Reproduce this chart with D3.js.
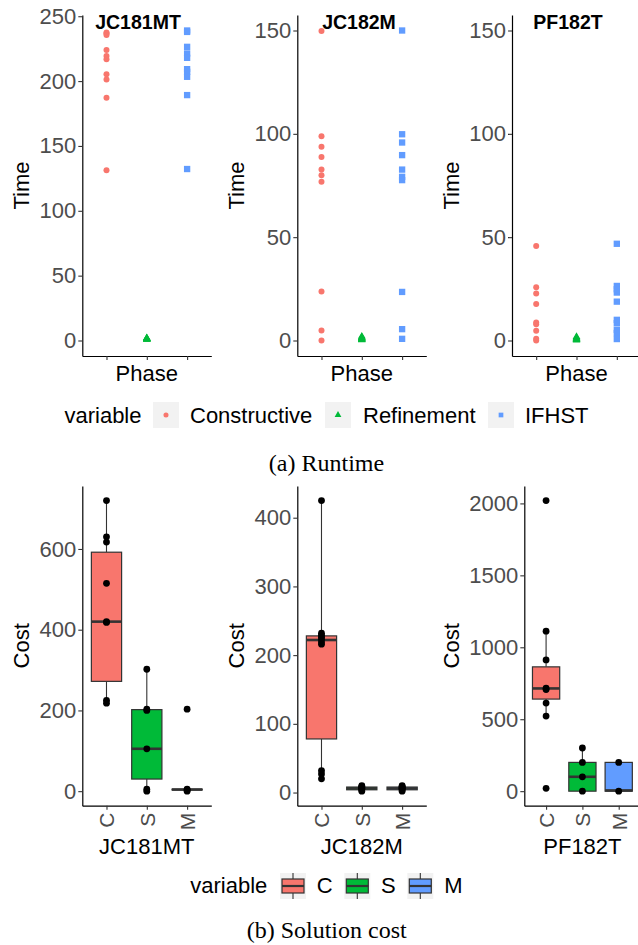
<!DOCTYPE html>
<html><head><meta charset="utf-8">
<script src="https://cdn.jsdelivr.net/npm/d3@7"></script>
<style>body{margin:0;background:#fff}svg{display:block}</style>
</head><body>
<svg id="chart" width="638" height="945"></svg>
<script>
// ---------------- DATA ----------------
const datasets = ["JC181MT", "JC182M", "PF182T"];
const phases = ["Constructive", "Refinement", "IFHST"];
const phaseColors = ["#F8766D", "#00BA38", "#619CFF"];

// Runtime (Time) per dataset
const rtConstructive = [
  [237.5, 236.7, 235.6, 224, 219.4, 216.9, 205.3, 201.3, 187.1, 131.2],
  [149.7, 98.8, 93.8, 88.8, 82.7, 79.9, 76.8, 23.7, 4.8, 0],
  [45.7, 25.8, 22.7, 17.7, 8.7, 7.9, 4.7, 0.8, 0]
];
const rtRefinement = [
  [0.8, 1.0, 1.2, 1.5, 1.8, 2.0, 1.1, 0.9, 1.3],
  [0.2, 0.5, 0.8, 1.2, 1.6, 2.0, 0.4, 1.0, 1.4],
  [0.1, 0.3, 0.6, 1.0, 1.4, 1.8, 0.5, 0.9]
];
const rtIFHST = [
  [239, 237.9, 226.4, 221.3, 217.9, 209.2, 207.1, 203.3, 189.2, 132.2],
  [150, 99.8, 95.8, 89.7, 82.7, 79.2, 77.6, 23.5, 5.5, 0.8],
  [46.8, 26.4, 24.8, 23.2, 18.8, 10, 8.4, 5.2, 3.6, 0.7]
];
const rtLimits = [[0, 239], [0, 150], [0, 150]];
const rtTicks = [[0, 50, 100, 150, 200, 250], [0, 50, 100, 150], [0, 50, 100, 150]];

// Solution cost per dataset
const costVars = ["C", "S", "M"];
const costColors = ["#F8766D", "#00BA38", "#619CFF"];
const costPointsC = [
  [720, 630, 617, 515, 420, 418, 225, 218],
  [425, 232, 229, 226, 223, 219, 216, 32, 27, 20],
  [2020, 1112, 912, 716, 706, 612, 522, 20]
];
const costPointsS = [
  [302, 203, 200, 105, 5, 0],
  [2, 4, 5, 6, 7, 8, 9, 10],
  [300, 200, 100, 0]
];
const costPointsM = [
  [203, 5, 3, 0],
  [2, 4, 5, 6, 7, 8, 9, 10],
  [200, 0]
];
// box stats: [lower whisker, q1, median, q3, upper whisker]
const costBoxC = [[218, 272, 420, 592, 720], [20, 78, 222, 228, 425], [520, 640, 714, 864, 1112]];
const costBoxS = [[0, 30, 105, 202, 302], [2, 4, 6, 8, 10], [0, 0, 100, 200, 300]];
const costBoxM = [[0, 3, 4, 5, 5], [2, 4, 6, 8, 10], [0, 0, 5, 200, 200]];
const costTicks = [[0, 200, 400, 600], [0, 100, 200, 300, 400], [0, 500, 1000, 1500, 2000]];

// ---------------- LAYOUT ----------------
const SANS = "'Liberation Sans', Arial, Helvetica, sans-serif";
const SERIF = "'Liberation Serif', 'Times New Roman', serif";
const svg = d3.select("#chart");
const fmt = d3.format("d");

const topPanels = [
  {left: 82.3, right: 211.3, titleX: 138, ylabX: 29.3},
  {left: 297.3, right: 426.3, titleX: 359, ylabX: 244.3},
  {left: 512, right: 641, titleX: 568, ylabX: 459.3}
];
const topY = [356, 15];
const botPanels = [
  {left: 82.3, right: 211.3, ylabX: 29.3},
  {left: 297.3, right: 426.3, ylabX: 244.3},
  {left: 524.3, right: 640.5, ylabX: 459.3}
];
const botY = [805.7, 486];

function expand(lim) {
  const r = lim[1] - lim[0];
  return [lim[0] - 0.05 * r, lim[1] + 0.05 * r];
}
function styleAxis(g) {
  g.select(".domain").attr("stroke", "#000").attr("stroke-width", 1.2);
  g.selectAll(".tick line").attr("stroke", "#333").attr("stroke-width", 1.1);
  g.selectAll(".tick text").attr("fill", "#4D4D4D").attr("font-family", SANS);
}

// ---------------- TOP ROW: RUNTIME ----------------
topPanels.forEach((p, i) => {
  const y = d3.scaleLinear().domain(expand(rtLimits[i])).range(topY);
  const x = d3.scalePoint().domain(phases).range([p.left, p.right]).padding(0.6);

  const gy = svg.append("g").attr("transform", `translate(${p.left},0)`)
    .call(d3.axisLeft(y).tickValues(rtTicks[i]).tickFormat(fmt).tickSize(4).tickPadding(2).tickSizeOuter(0));
  styleAxis(gy);
  gy.selectAll(".tick text").attr("font-size", 22);

  const gx = svg.append("g").attr("transform", `translate(0,${topY[0]})`)
    .call(d3.axisBottom(x).tickSize(4).tickSizeOuter(0).tickFormat(""));
  styleAxis(gx);

  svg.append("text").attr("x", x("Refinement")).attr("y", 381)
    .attr("text-anchor", "middle").attr("font-family", SANS).attr("font-size", 22)
    .text("Phase");
  svg.append("text").attr("transform", `translate(${p.ylabX},${(topY[0] + topY[1]) / 2}) rotate(-90)`)
    .attr("text-anchor", "middle").attr("font-family", SANS).attr("font-size", 22)
    .text("Time");

  svg.append("g").selectAll("circle").data(rtConstructive[i]).join("circle")
    .attr("cx", x("Constructive")).attr("cy", d => y(d)).attr("r", 3)
    .attr("fill", phaseColors[0]);
  svg.append("g").selectAll("path").data(rtRefinement[i]).join("path")
    .attr("d", d3.symbol(d3.symbolTriangle, 26))
    .attr("transform", d => `translate(${x("Refinement")},${y(d)})`)
    .attr("fill", phaseColors[1]);
  svg.append("g").selectAll("path").data(rtIFHST[i]).join("path")
    .attr("d", d3.symbol(d3.symbolSquare, 40))
    .attr("transform", d => `translate(${x("IFHST")},${y(d)})`)
    .attr("fill", phaseColors[2]);

  svg.append("text").attr("x", p.titleX).attr("y", 28.5)
    .attr("text-anchor", "middle").attr("font-family", SANS).attr("font-weight", "bold")
    .attr("font-size", 19.5).text(datasets[i]);
});

// top legend
{
  const ly = 402, ks = 26;
  svg.append("text").attr("x", 141.5).attr("y", 423).attr("text-anchor", "end")
    .attr("font-family", SANS).attr("font-size", 22).text("variable");
  const keyX = [153, 325, 488];
  const txtX = [190, 363, 525];
  const syms = [d3.symbolCircle, d3.symbolTriangle, d3.symbolSquare];
  const sizes = [20, 20, 22];
  phases.forEach((ph, j) => {
    svg.append("rect").attr("x", keyX[j]).attr("y", ly).attr("width", ks).attr("height", ks)
      .attr("fill", "#F2F2F2");
    svg.append("path").attr("d", d3.symbol(syms[j], sizes[j]))
      .attr("transform", `translate(${keyX[j] + ks / 2},${ly + ks / 2})`)
      .attr("fill", phaseColors[j]);
    svg.append("text").attr("x", txtX[j]).attr("y", 423)
      .attr("font-family", SANS).attr("font-size", 22).text(ph);
  });
}

svg.append("text").attr("x", 326.5).attr("y", 470.5).attr("text-anchor", "middle")
  .attr("font-family", SERIF).attr("font-size", 24).text("(a) Runtime");

// ---------------- BOTTOM ROW: COST ----------------
const boxSets = [costBoxC, costBoxS, costBoxM];
const ptSets = [costPointsC, costPointsS, costPointsM];
botPanels.forEach((p, i) => {
  const all = [].concat(costPointsC[i], costPointsS[i], costPointsM[i]);
  const y = d3.scaleLinear().domain(expand(d3.extent(all))).range(botY);
  const x = d3.scalePoint().domain(costVars).range([p.left, p.right]).padding(0.6);
  const bw = x.step() * 0.75;

  const gy = svg.append("g").attr("transform", `translate(${p.left},0)`)
    .call(d3.axisLeft(y).tickValues(costTicks[i]).tickFormat(fmt).tickSize(4).tickPadding(2).tickSizeOuter(0));
  styleAxis(gy);
  gy.selectAll(".tick text").attr("font-size", 22);

  const gx = svg.append("g").attr("transform", `translate(0,${botY[0]})`)
    .call(d3.axisBottom(x).tickSize(4).tickPadding(3).tickSizeOuter(0));
  styleAxis(gx);
  gx.selectAll(".tick text")
    .attr("transform", "rotate(-90)").attr("text-anchor", "end")
    .attr("x", -7).attr("y", 0).attr("dy", "0.35em").attr("font-size", 21);

  svg.append("text").attr("x", (p.left + p.right) / 2).attr("y", 854).attr("text-anchor", "middle")
    .attr("font-family", SANS).attr("font-size", 22).text(datasets[i]);
  svg.append("text").attr("transform", `translate(${p.ylabX},${(botY[0] + botY[1]) / 2}) rotate(-90)`)
    .attr("text-anchor", "middle").attr("font-family", SANS).attr("font-size", 22)
    .text("Cost");

  costVars.forEach((v, j) => {
    const [lw, q1, med, q3, uw] = boxSets[j][i];
    const cx = x(v);
    const g = svg.append("g");
    g.append("line").attr("x1", cx).attr("x2", cx).attr("y1", y(uw)).attr("y2", y(q3))
      .attr("stroke", "#333").attr("stroke-width", 1.1);
    g.append("line").attr("x1", cx).attr("x2", cx).attr("y1", y(q1)).attr("y2", y(lw))
      .attr("stroke", "#333").attr("stroke-width", 1.1);
    g.append("rect").attr("x", cx - bw / 2).attr("width", bw)
      .attr("y", y(q3)).attr("height", Math.max(0, y(q1) - y(q3)))
      .attr("fill", costColors[j]).attr("stroke", "#333").attr("stroke-width", 1.2);
    g.append("line").attr("x1", cx - bw / 2).attr("x2", cx + bw / 2)
      .attr("y1", y(med)).attr("y2", y(med))
      .attr("stroke", "#333").attr("stroke-width", 2.6);
    g.selectAll("circle").data(ptSets[j][i]).join("circle")
      .attr("cx", cx).attr("cy", d => y(d)).attr("r", 3.4).attr("fill", "#000");
  });
});

// bottom legend
{
  const ly = 873, ks = 26;
  svg.append("text").attr("x", 267.3).attr("y", 893).attr("text-anchor", "end")
    .attr("font-family", SANS).attr("font-size", 22).text("variable");
  const keyX = [280, 344.3, 407.3];
  const txtX = [316.7, 381, 444.3];
  costVars.forEach((v, j) => {
    const kx = keyX[j];
    svg.append("rect").attr("x", kx).attr("y", ly).attr("width", ks).attr("height", ks)
      .attr("fill", "#F2F2F2");
    svg.append("line").attr("x1", kx + ks / 2).attr("x2", kx + ks / 2)
      .attr("y1", ly).attr("y2", ly + ks).attr("stroke", "#333").attr("stroke-width", 1.1);
    svg.append("rect").attr("x", kx + 2).attr("y", ly + 6).attr("width", ks - 4).attr("height", 14)
      .attr("fill", costColors[j]).attr("stroke", "#333").attr("stroke-width", 1.2);
    svg.append("line").attr("x1", kx + 2).attr("x2", kx + ks - 2)
      .attr("y1", ly + 13).attr("y2", ly + 13).attr("stroke", "#333").attr("stroke-width", 2.2);
    svg.append("text").attr("x", txtX[j]).attr("y", 893)
      .attr("font-family", SANS).attr("font-size", 22).text(v);
  });
}

svg.append("text").attr("x", 326.7).attr("y", 938).attr("text-anchor", "middle")
  .attr("font-family", SERIF).attr("font-size", 24).text("(b) Solution cost");
</script>
</body></html>
